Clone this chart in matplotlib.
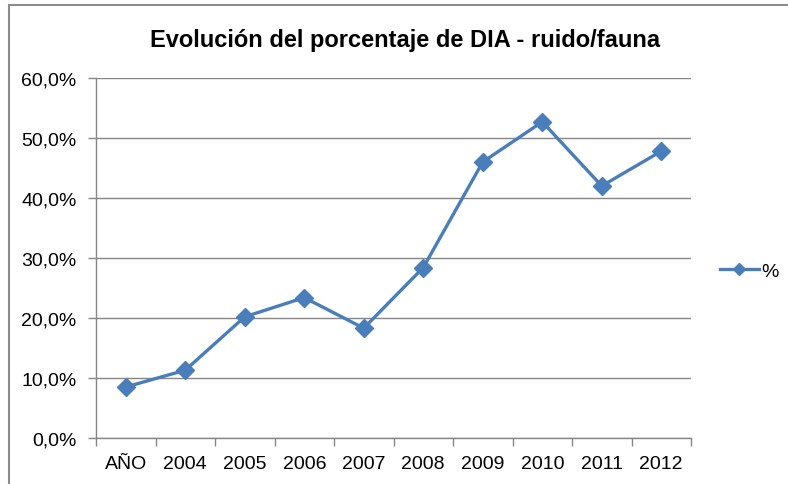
import matplotlib
matplotlib.use("Agg")
import matplotlib.pyplot as plt
from matplotlib.lines import Line2D
from matplotlib.patches import Rectangle
from matplotlib.ticker import FuncFormatter, FixedLocator

categorias = ["AÑO", "2004", "2005", "2006", "2007", "2008", "2009", "2010", "2011", "2012"]
porcentaje = [8.5, 11.3, 20.2, 23.4, 18.3, 28.4, 46.0, 52.7, 42.0, 47.8]
y_ticks = [0, 10, 20, 30, 40, 50, 60]

plt.rcParams['font.family'] = ['Liberation Sans', 'DejaVu Sans']
azul = '#4A7EBB'
gris = '#868686'

fig = plt.figure(figsize=(7.88, 4.85), dpi=100)
ax = fig.add_axes([96/788, 1-439/485, (691-96)/788, (439-79)/485])

x = list(range(len(categorias)))
ax.plot(x, porcentaje, color=azul, lw=2.4, marker='D', ms=9, mec=azul, mfc=azul, zorder=3)

ax.set_xlim(-0.5, len(categorias) - 0.5)
ax.set_ylim(0, 60)
ax.yaxis.set_major_locator(FixedLocator(y_ticks))
ax.yaxis.set_major_formatter(FuncFormatter(lambda v, p: f"{v:.1f}%".replace('.', ',')))
ax.grid(axis='y', color=gris, lw=1)
ax.set_axisbelow(True)

ax.set_xticks(x)
ax.set_xticklabels(categorias)
ax.set_xticks([i - 0.5 for i in range(len(categorias) + 1)], minor=True)
ax.tick_params(axis='x', which='major', length=0, pad=12, labelsize=14)
ax.tick_params(axis='x', which='minor', length=6, color=gris, width=1)
ax.tick_params(axis='y', length=6, color=gris, width=1, pad=8, labelsize=14)

for s in ['top', 'right']:
    ax.spines[s].set_visible(False)
for s in ['left', 'bottom']:
    ax.spines[s].set_color(gris)
    ax.spines[s].set_linewidth(1)

fig.text(405/788, 1-41/485, "Evolución del porcentaje de DIA - ruido/fauna", fontsize=17,
         fontweight='bold', ha='center', va='center')

handle = Line2D([], [], color=azul, lw=2.4, marker='D', ms=6.5, mec=azul, mfc=azul)
fig.legend([handle], ["%"], loc='center left', bbox_to_anchor=(720/788, 1-272/485),
           frameon=False, fontsize=14, handlelength=2.0, handletextpad=0.1,
           borderaxespad=0, borderpad=0)

fig.patches.append(Rectangle((9/788, -0.1), 1.2, 1-6/485 + 0.1, transform=fig.transFigure,
                             fill=False, edgecolor='#8c8c8c', lw=1.5))

fig.savefig("out.png", dpi=100)
